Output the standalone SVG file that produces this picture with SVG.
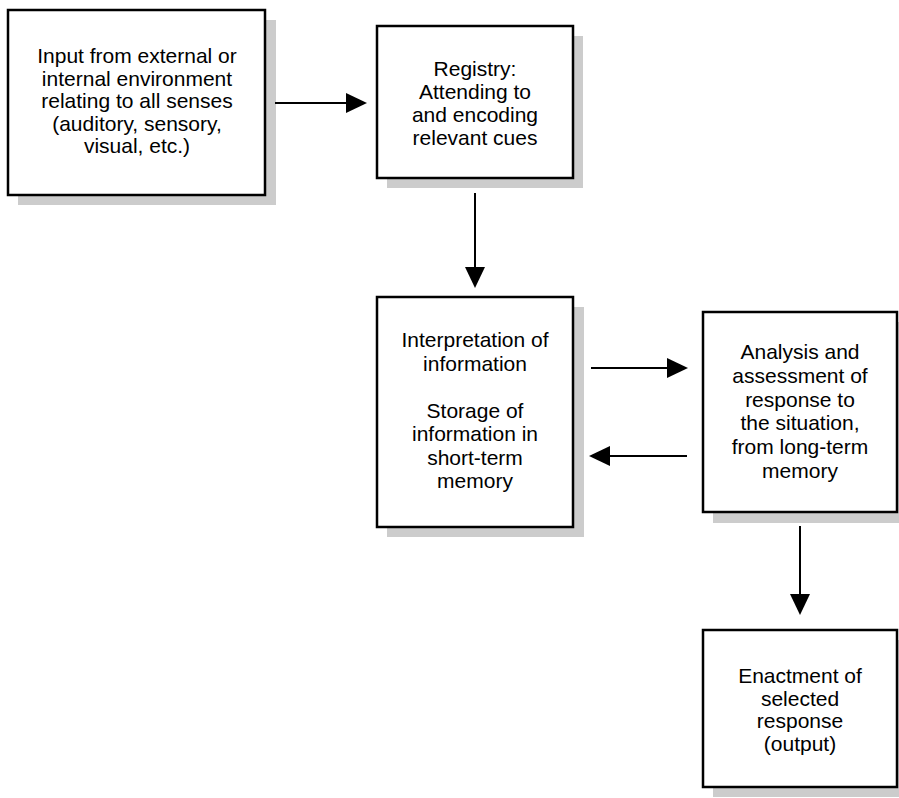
<svg xmlns="http://www.w3.org/2000/svg" width="899" height="798" viewBox="0 0 899 798">
<style>
.bg{fill:#ffffff}
.shadow{fill:#cccccc}
.box{fill:#ffffff;stroke:#000000;stroke-width:2.5}
.label{font-family:"Liberation Sans",Arial,Helvetica,sans-serif;font-size:21px;fill:#000000;text-anchor:middle}
.conn{stroke:#000000;stroke-width:2;fill:none}
</style>
<defs>
<marker id="arrow" markerUnits="userSpaceOnUse" markerWidth="22" markerHeight="22" refX="17" refY="10" orient="auto">
<path d="M0,0 L21,10 L0,20 Z" fill="#000000"/>
</marker>
</defs>
<rect class="bg" x="0" y="0" width="899" height="798"/>
<g id="node-input">
<rect class="shadow" x="18" y="20" width="258" height="185"/>
<rect class="box" x="8" y="10" width="257" height="185"/>
<text class="label" x="137" y="63">Input from external or</text>
<text class="label" x="137" y="85.5">internal environment</text>
<text class="label" x="137" y="108">relating to all senses</text>
<text class="label" x="137" y="130.5">(auditory, sensory,</text>
<text class="label" x="137" y="153">visual, etc.)</text>
</g>
<g id="node-registry">
<rect class="shadow" x="387" y="36" width="196" height="152"/>
<rect class="box" x="377" y="26" width="196" height="152"/>
<text class="label" x="475" y="76">Registry:</text>
<text class="label" x="475" y="99">Attending to</text>
<text class="label" x="475" y="122">and encoding</text>
<text class="label" x="475" y="145">relevant cues</text>
</g>
<g id="node-interpretation">
<rect class="shadow" x="387" y="307" width="197" height="230"/>
<rect class="box" x="377" y="297" width="196" height="230"/>
<text class="label" x="475" y="347">Interpretation of</text>
<text class="label" x="475" y="370.5">information</text>
<text class="label" x="475" y="417.5">Storage of</text>
<text class="label" x="475" y="441">information in</text>
<text class="label" x="475" y="464.5">short-term</text>
<text class="label" x="475" y="488">memory</text>
</g>
<g id="node-analysis">
<rect class="shadow" x="713" y="322" width="194" height="201"/>
<rect class="box" x="703" y="312" width="194" height="200"/>
<text class="label" x="800" y="359">Analysis and</text>
<text class="label" x="800" y="383">assessment of</text>
<text class="label" x="800" y="406.5">response to</text>
<text class="label" x="800" y="430">the situation,</text>
<text class="label" x="800" y="454">from long-term</text>
<text class="label" x="800" y="478">memory</text>
</g>
<g id="node-enactment">
<rect class="shadow" x="713" y="640" width="194" height="157"/>
<rect class="box" x="703" y="630" width="194" height="157"/>
<text class="label" x="800" y="683">Enactment of</text>
<text class="label" x="800" y="705.5">selected</text>
<text class="label" x="800" y="728">response</text>
<text class="label" x="800" y="750.5">(output)</text>
</g>
<g id="connectors">
<line class="conn" x1="275" y1="103" x2="363" y2="103" marker-end="url(#arrow)"/>
<line class="conn" x1="475" y1="193" x2="475" y2="284" marker-end="url(#arrow)"/>
<line class="conn" x1="591" y1="368" x2="684" y2="368" marker-end="url(#arrow)"/>
<line class="conn" x1="687" y1="456" x2="593" y2="456" marker-end="url(#arrow)"/>
<line class="conn" x1="800" y1="526" x2="800" y2="611" marker-end="url(#arrow)"/>
</g>
</svg>
